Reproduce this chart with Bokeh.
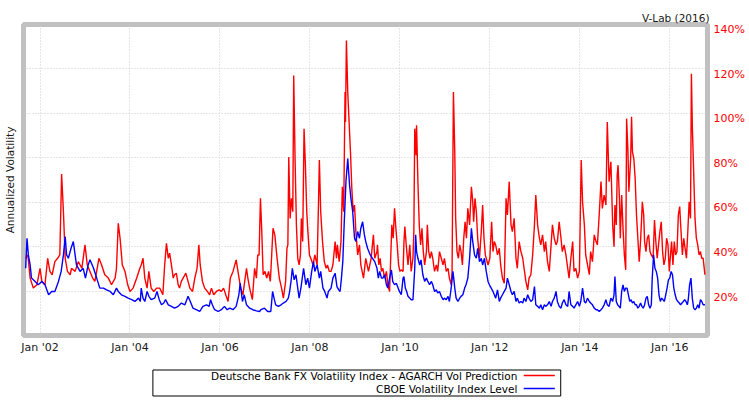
import datetime as dt
import numpy as np
from bokeh.plotting import figure
from bokeh.layouts import column
from bokeh.models import (Range1d, LinearAxis, FixedTicker, PrintfTickFormatter,
                          DatetimeTickFormatter)
from bokeh.embed import file_html
from bokeh.resources import INLINE
from bokeh.core.properties import value

# ---------------- data (decimal years, annualized volatility in %) ----------------
SERIES_NAMES = ["Deutsche Bank FX Volatility Index - AGARCH Vol Prediction",
                "CBOE Volatility Index Level"]
SERIES_COLORS = ["#ff0000", "#0000ff"]

RED_T_1 = [2001.68, 2001.73, 2001.78, 2001.85, 2001.93, 2002.00, 2002.04, 2002.11, 2002.17, 2002.22,
           2002.27, 2002.33, 2002.39, 2002.44, 2002.48, 2002.52, 2002.56, 2002.61, 2002.67, 2002.70,
           2002.78, 2002.85, 2002.93, 2003.00, 2003.05, 2003.11, 2003.17, 2003.22, 2003.31, 2003.37,
           2003.44, 2003.52, 2003.59, 2003.67, 2003.70, 2003.74, 2003.78, 2003.83, 2003.89, 2003.95,
           2004.00, 2004.07, 2004.15, 2004.22]
RED_V_1 = [34.9, 36.4, 26.0, 21.5, 23.0, 30.4, 24.5, 23.0, 34.9, 29.0,
           27.5, 33.4, 34.9, 36.4, 72.7, 55.8, 34.9, 29.0, 27.5, 30.4,
           29.0, 33.4, 30.4, 40.9, 31.9, 29.0, 26.0, 24.5, 34.9, 31.9,
           27.5, 26.0, 23.0, 26.0, 30.4, 50.6, 43.9, 31.9, 29.0, 23.0,
           20.0, 21.5, 26.0, 30.4]

RED_T_2 = [2004.25, 2004.29, 2004.33, 2004.38, 2004.42, 2004.47, 2004.53, 2004.59, 2004.66, 2004.73,
           2004.77, 2004.81, 2004.85, 2004.88, 2004.92, 2004.96, 2004.99, 2005.03, 2005.07, 2005.10,
           2005.14, 2005.18, 2005.24, 2005.29, 2005.33, 2005.39, 2005.44, 2005.49, 2005.53, 2005.56,
           2005.61, 2005.66, 2005.72, 2005.77, 2005.81, 2005.86, 2005.92, 2005.98, 2006.03, 2006.08,
           2006.14, 2006.18, 2006.23, 2006.29, 2006.36, 2006.40, 2006.46, 2006.51, 2006.55, 2006.59,
           2006.62, 2006.66, 2006.72, 2006.77, 2006.81, 2006.84]
RED_V_2 = [31.9, 34.9, 26.0, 21.5, 29.0, 21.5, 20.0, 21.5, 21.5, 18.5,
           31.9, 41.6, 34.9, 37.2, 31.9, 26.0, 27.5, 28.2, 23.0, 21.5,
           24.5, 26.0, 28.2, 24.5, 21.5, 20.0, 26.0, 30.4, 40.9, 31.9,
           24.5, 21.5, 20.0, 18.5, 21.5, 18.5, 20.0, 20.7, 20.0, 21.5,
           17.8, 15.5, 26.0, 29.0, 34.2, 29.0, 21.5, 18.5, 24.5, 30.4,
           26.0, 21.5, 16.3, 30.4, 26.0, 36.4]

RED_T_3 = [2006.87, 2006.90, 2006.93, 2006.96, 2007.00, 2007.04, 2007.08, 2007.12, 2007.15, 2007.18,
           2007.22, 2007.27, 2007.32, 2007.37, 2007.41, 2007.46, 2007.49, 2007.51, 2007.53, 2007.56,
           2007.59, 2007.62, 2007.64, 2007.67, 2007.70, 2007.73, 2007.76, 2007.79, 2007.81, 2007.84,
           2007.87, 2007.90, 2007.93, 2007.96, 2007.99, 2008.02, 2008.07, 2008.11, 2008.16, 2008.19,
           2008.21, 2008.24, 2008.28, 2008.32, 2008.36, 2008.39, 2008.43, 2008.47, 2008.51, 2008.56,
           2008.59, 2008.61, 2008.65, 2008.69, 2008.72, 2008.75, 2008.78, 2008.79, 2008.81, 2008.84,
           2008.87, 2008.90, 2008.93, 2008.96, 2008.99, 2009.02, 2009.06, 2009.10, 2009.13, 2009.19,
           2009.24, 2009.30, 2009.36, 2009.41, 2009.44, 2009.49]
RED_V_3 = [36.4, 61.8, 46.9, 27.5, 29.0, 26.0, 29.0, 24.5, 36.4, 48.4,
           45.4, 34.9, 26.0, 21.5, 17.0, 24.5, 39.4, 40.9, 80.4, 52.8,
           61.8, 55.8, 117.0, 79.7, 49.9, 34.9, 31.9, 36.4, 52.8, 42.4,
           93.1, 76.7, 55.8, 45.4, 36.4, 34.9, 31.9, 36.4, 31.9, 58.8,
           79.0, 55.8, 42.4, 33.4, 30.4, 31.9, 29.0, 29.0, 31.9, 42.4,
           34.9, 40.9, 33.4, 42.4, 67.0, 55.8, 109.6, 96.1, 132.7, 109.6,
           96.1, 82.7, 66.3, 55.8, 58.8, 46.9, 36.4, 40.9, 31.9, 26.0,
           34.9, 29.0, 34.9, 45.4, 34.9, 37.9]

RED_T_4 = [2009.50, 2009.53, 2009.56, 2009.59, 2009.62, 2009.66, 2009.70, 2009.73, 2009.77, 2009.79,
           2009.82, 2009.85, 2009.88, 2009.91, 2009.94, 2009.97, 2010.00, 2010.03, 2010.07, 2010.09,
           2010.11, 2010.14, 2010.18, 2010.22, 2010.25, 2010.29, 2010.31, 2010.33, 2010.36, 2010.37,
           2010.40, 2010.43, 2010.46, 2010.49, 2010.52, 2010.55, 2010.59, 2010.61, 2010.64, 2010.67,
           2010.70, 2010.73, 2010.77, 2010.81, 2010.84, 2010.88, 2010.92, 2010.96, 2010.99, 2011.03,
           2011.07, 2011.10, 2011.14, 2011.16, 2011.19, 2011.22, 2011.24, 2011.27, 2011.30, 2011.33,
           2011.36, 2011.39, 2011.42, 2011.45, 2011.48, 2011.51, 2011.55, 2011.59, 2011.62, 2011.64,
           2011.67, 2011.70, 2011.73, 2011.77, 2011.81, 2011.84, 2011.87, 2011.90, 2011.96, 2012.00,
           2012.04, 2012.07]
RED_V_4 = [40.9, 31.9, 34.9, 29.0, 30.4, 26.0, 29.0, 23.0, 20.0, 31.9,
           49.9, 43.9, 57.3, 48.4, 40.9, 31.9, 29.0, 29.7, 29.0, 42.4,
           49.1, 40.9, 31.9, 40.9, 29.0, 34.9, 46.9, 93.1, 81.2, 94.6,
           69.3, 49.9, 40.9, 48.4, 37.9, 31.9, 37.9, 49.9, 37.9, 34.9,
           37.9, 34.9, 29.0, 31.9, 29.0, 37.9, 34.9, 31.9, 34.9, 29.0,
           30.4, 26.0, 23.0, 29.0, 109.6, 82.7, 52.8, 37.9, 34.9, 40.9,
           37.9, 31.9, 43.9, 51.3, 43.9, 57.3, 49.9, 67.0, 60.3, 51.3,
           61.8, 55.8, 43.9, 34.9, 46.9, 58.8, 43.9, 36.4, 31.9, 34.9,
           51.3, 37.9]

RED_T_5 = [2012.10, 2012.13, 2012.17, 2012.21, 2012.24, 2012.28, 2012.32, 2012.36, 2012.39, 2012.43,
           2012.47, 2012.50, 2012.54, 2012.58, 2012.61, 2012.65, 2012.69, 2012.73, 2012.76, 2012.80,
           2012.84, 2012.87, 2012.91, 2012.95, 2012.99, 2013.02, 2013.06, 2013.10, 2013.13, 2013.17,
           2013.21, 2013.24, 2013.28, 2013.32, 2013.36, 2013.39, 2013.43, 2013.47, 2013.50, 2013.54,
           2013.58, 2013.61, 2013.65, 2013.69, 2013.73, 2013.76, 2013.80, 2013.84, 2013.87, 2013.91,
           2013.95, 2013.99, 2014.03, 2014.06, 2014.10, 2014.13, 2014.17, 2014.21, 2014.24, 2014.28,
           2014.32, 2014.36, 2014.39, 2014.43, 2014.47, 2014.50, 2014.54, 2014.58, 2014.61, 2014.65,
           2014.69, 2014.73]
RED_V_5 = [42.4, 40.9, 36.4, 39.4, 31.9, 26.0, 23.7, 61.8, 54.3, 69.3,
           49.9, 46.9, 52.8, 34.9, 30.4, 42.4, 37.9, 34.9, 30.4, 24.5,
           20.7, 26.0, 27.5, 36.4, 49.9, 63.3, 49.9, 43.9, 40.9, 45.4,
           37.9, 42.4, 33.4, 29.0, 40.9, 49.9, 43.9, 40.9, 42.4, 51.3,
           43.9, 37.9, 40.9, 36.4, 30.4, 26.0, 34.9, 42.4, 29.0, 30.4,
           26.0, 29.0, 79.0, 60.3, 49.9, 36.4, 31.9, 27.5, 37.9, 33.4,
           45.4, 42.4, 40.9, 54.3, 69.3, 57.3, 63.3, 58.8, 96.1, 69.3,
           78.2, 49.9]

RED_T_6 = [2014.76, 2014.78, 2014.81, 2014.83, 2014.85, 2014.88, 2014.90, 2014.93, 2014.96, 2014.99,
           2015.02, 2015.04, 2015.07, 2015.09, 2015.13, 2015.15, 2015.17, 2015.20, 2015.23, 2015.26,
           2015.29, 2015.32, 2015.35, 2015.37, 2015.39, 2015.42, 2015.44, 2015.47, 2015.50, 2015.53,
           2015.56, 2015.59, 2015.63, 2015.66, 2015.69, 2015.72, 2015.75, 2015.78, 2015.81, 2015.84,
           2015.87, 2015.90, 2015.93, 2015.96, 2015.99, 2016.01, 2016.04, 2016.07, 2016.10, 2016.13,
           2016.16, 2016.19, 2016.22, 2016.25, 2016.28, 2016.31, 2016.34, 2016.37, 2016.40, 2016.43,
           2016.46, 2016.48, 2016.50, 2016.53, 2016.56, 2016.59, 2016.62, 2016.65, 2016.68, 2016.71,
           2016.74, 2016.78]
RED_V_6 = [40.1, 58.8, 49.9, 72.2, 76.7, 61.8, 43.9, 63.3, 48.4, 36.4,
           29.7, 97.6, 82.7, 64.8, 79.7, 98.4, 82.7, 79.7, 70.7, 54.3,
           43.9, 33.4, 42.4, 51.3, 60.3, 54.3, 42.4, 37.9, 43.9, 45.4,
           37.9, 36.4, 34.9, 52.1, 42.4, 34.9, 40.9, 46.9, 51.3, 37.9,
           31.9, 34.9, 43.9, 40.9, 29.0, 34.9, 42.4, 31.9, 42.4, 36.4,
           37.9, 54.3, 58.1, 46.9, 36.4, 43.9, 39.4, 34.9, 46.9, 60.3,
           52.8, 117.8, 94.6, 73.7, 52.8, 43.9, 40.9, 36.4, 37.9, 34.9,
           34.9, 27.5]

BLUE_T_1 = [2001.68, 2001.71, 2001.74, 2001.78, 2001.81, 2001.89, 2001.96, 2002.04, 2002.11, 2002.19,
            2002.26, 2002.33, 2002.41, 2002.47, 2002.52, 2002.56, 2002.59, 2002.63, 2002.69, 2002.74,
            2002.78, 2002.81, 2002.89, 2002.96, 2003.01, 2003.07, 2003.11, 2003.19, 2003.26, 2003.33,
            2003.41, 2003.48, 2003.56, 2003.63, 2003.70, 2003.74, 2003.81, 2003.89, 2003.96, 2004.04,
            2004.11, 2004.19, 2004.23]
BLUE_V_1 = [30.4, 43.9, 36.4, 31.9, 26.0, 24.5, 23.0, 24.5, 23.0, 18.5,
            20.0, 20.0, 24.5, 29.0, 36.4, 44.6, 36.4, 34.9, 39.4, 42.4,
            36.4, 31.9, 29.0, 30.4, 26.0, 31.9, 34.2, 30.4, 26.0, 21.5,
            21.5, 20.7, 20.0, 18.5, 21.5, 20.0, 18.5, 17.8, 17.0, 16.3,
            15.5, 17.0, 15.5]

BLUE_T_2 = [2004.25, 2004.29, 2004.33, 2004.38, 2004.42, 2004.47, 2004.55, 2004.60, 2004.65, 2004.70,
            2004.75, 2004.79, 2004.85, 2004.92, 2004.99, 2005.07, 2005.14, 2005.22, 2005.29, 2005.34,
            2005.40, 2005.47, 2005.55, 2005.62, 2005.70, 2005.76, 2005.79, 2005.83, 2005.88, 2005.96,
            2006.03, 2006.10, 2006.16, 2006.22, 2006.29, 2006.36, 2006.42, 2006.45, 2006.50, 2006.54,
            2006.59, 2006.66, 2006.73, 2006.81, 2006.88]
BLUE_V_2 = [21.5, 17.0, 15.5, 20.0, 17.8, 16.3, 17.0, 20.0, 16.3, 14.0,
            14.8, 16.3, 14.0, 13.3, 12.5, 13.3, 14.8, 14.0, 17.8, 15.5,
            12.5, 11.8, 11.0, 13.3, 14.0, 13.3, 16.3, 14.0, 11.8, 11.0,
            11.8, 13.3, 11.8, 12.5, 11.8, 13.3, 18.5, 23.7, 15.5, 18.5,
            14.0, 12.5, 11.8, 11.3, 11.0]

BLUE_T_3 = [2006.91, 2006.99, 2007.06, 2007.13, 2007.17, 2007.21, 2007.24, 2007.30, 2007.36, 2007.41,
            2007.47, 2007.52, 2007.55, 2007.58, 2007.61, 2007.65, 2007.69, 2007.73, 2007.76, 2007.80,
            2007.86, 2007.91, 2007.95, 2007.99, 2008.04, 2008.08, 2008.11, 2008.16, 2008.21, 2008.24,
            2008.29, 2008.33, 2008.38, 2008.41, 2008.47, 2008.51, 2008.56, 2008.60, 2008.64, 2008.67,
            2008.70, 2008.73, 2008.76, 2008.80, 2008.84, 2008.88, 2008.91, 2008.95, 2008.99, 2009.02,
            2009.06, 2009.10, 2009.13, 2009.17, 2009.21, 2009.24, 2009.28, 2009.34, 2009.39, 2009.44,
            2009.49]
BLUE_V_3 = [11.8, 12.5, 11.0, 11.0, 20.0, 16.3, 14.0, 13.3, 14.0, 14.8,
            15.5, 17.0, 20.0, 24.5, 30.4, 25.2, 27.5, 21.5, 17.0, 21.5,
            30.4, 23.0, 26.0, 21.5, 29.0, 33.4, 29.0, 31.9, 26.0, 29.0,
            21.5, 20.0, 17.0, 20.0, 21.5, 26.0, 28.2, 22.2, 20.7, 20.0,
            26.0, 33.4, 49.9, 69.3, 79.7, 67.8, 61.8, 55.8, 43.9, 42.4,
            46.9, 43.9, 48.4, 51.3, 45.4, 42.4, 39.4, 36.4, 34.9, 33.4,
            30.4]

BLUE_T_4 = [2009.52, 2009.55, 2009.59, 2009.62, 2009.66, 2009.70, 2009.73, 2009.77, 2009.81, 2009.84,
            2009.88, 2009.92, 2009.96, 2009.99, 2010.03, 2010.07, 2010.09, 2010.12, 2010.15, 2010.18,
            2010.22, 2010.25, 2010.29, 2010.33, 2010.35, 2010.37, 2010.40, 2010.44, 2010.47, 2010.51,
            2010.55, 2010.59, 2010.62, 2010.66, 2010.70, 2010.73, 2010.77, 2010.81, 2010.84, 2010.88,
            2010.92, 2010.96, 2010.99, 2011.03, 2011.07, 2011.10, 2011.14, 2011.18, 2011.22, 2011.25,
            2011.29, 2011.33, 2011.36, 2011.40, 2011.44, 2011.47, 2011.51, 2011.55, 2011.59, 2011.62,
            2011.66, 2011.70, 2011.73, 2011.77, 2011.81, 2011.84, 2011.88, 2011.92, 2011.96, 2011.99,
            2012.03, 2012.07]
BLUE_V_4 = [26.0, 29.0, 26.0, 26.0, 27.5, 23.0, 21.5, 26.0, 29.7, 24.5,
            23.0, 23.7, 21.5, 20.0, 18.5, 26.0, 26.7, 21.5, 20.0, 17.8,
            17.0, 16.3, 16.3, 30.4, 45.4, 37.9, 34.9, 31.9, 34.2, 27.5,
            24.5, 26.0, 24.5, 23.0, 24.5, 23.0, 20.0, 20.7, 19.3, 20.0,
            17.8, 16.3, 17.0, 16.3, 17.8, 15.5, 21.5, 29.0, 21.5, 17.0,
            15.5, 17.0, 17.8, 18.5, 21.5, 23.0, 26.0, 34.9, 48.4, 42.4,
            36.4, 34.9, 39.4, 33.4, 34.9, 31.9, 34.9, 29.0, 24.5, 23.0,
            21.5, 20.0]

BLUE_T_5 = [2012.10, 2012.13, 2012.17, 2012.21, 2012.24, 2012.28, 2012.32, 2012.36, 2012.39, 2012.43,
            2012.47, 2012.50, 2012.54, 2012.58, 2012.61, 2012.65, 2012.69, 2012.73, 2012.76, 2012.80,
            2012.84, 2012.87, 2012.91, 2012.95, 2012.99, 2013.02, 2013.06, 2013.10, 2013.13, 2013.17,
            2013.21, 2013.24, 2013.28, 2013.32, 2013.36, 2013.39, 2013.43, 2013.47, 2013.50, 2013.54,
            2013.58, 2013.61, 2013.65, 2013.69, 2013.73, 2013.76, 2013.80, 2013.84, 2013.87, 2013.91,
            2013.95, 2013.99, 2014.02, 2014.06, 2014.10, 2014.13, 2014.17, 2014.21, 2014.24, 2014.28,
            2014.32, 2014.36, 2014.39, 2014.43, 2014.47, 2014.50, 2014.54, 2014.58, 2014.61, 2014.65,
            2014.69, 2014.73]
BLUE_V_5 = [18.5, 17.0, 20.7, 15.5, 17.0, 18.5, 20.0, 21.5, 26.0, 23.0,
            20.0, 18.5, 20.0, 15.5, 17.0, 14.8, 15.5, 14.8, 17.0, 15.5,
            18.5, 17.0, 15.5, 16.3, 22.2, 14.0, 13.3, 12.5, 14.0, 11.8,
            14.0, 13.3, 14.0, 15.5, 13.3, 15.5, 17.0, 20.0, 15.5, 13.3,
            12.5, 14.8, 16.3, 14.0, 13.3, 20.0, 14.0, 13.3, 12.5, 14.0,
            15.5, 13.3, 15.5, 21.5, 15.5, 14.8, 17.0, 15.5, 14.8, 14.0,
            12.5, 11.8, 11.8, 11.0, 11.8, 12.5, 14.0, 16.3, 14.0, 13.3,
            17.0, 15.5]

BLUE_T_6 = [2014.76, 2014.78, 2014.81, 2014.84, 2014.87, 2014.90, 2014.93, 2014.96, 2014.99, 2015.02,
            2015.05, 2015.08, 2015.11, 2015.14, 2015.17, 2015.20, 2015.23, 2015.26, 2015.29, 2015.32,
            2015.35, 2015.38, 2015.41, 2015.44, 2015.47, 2015.50, 2015.53, 2015.56, 2015.59, 2015.61,
            2015.64, 2015.67, 2015.70, 2015.73, 2015.76, 2015.79, 2015.82, 2015.85, 2015.88, 2015.91,
            2015.94, 2015.97, 2016.00, 2016.03, 2016.06, 2016.09, 2016.12, 2016.15, 2016.18, 2016.21,
            2016.24, 2016.27, 2016.30, 2016.33, 2016.36, 2016.39, 2016.41, 2016.44, 2016.47, 2016.50,
            2016.53, 2016.56, 2016.59, 2016.62, 2016.65, 2016.68, 2016.71, 2016.74, 2016.78]
BLUE_V_6 = [18.5, 26.7, 15.5, 14.0, 13.3, 12.5, 20.0, 23.0, 20.0, 21.5,
            21.5, 18.5, 15.5, 16.3, 14.8, 15.5, 14.0, 14.0, 12.5, 13.3,
            14.8, 13.3, 12.5, 14.0, 17.0, 17.8, 14.0, 12.5, 14.0, 26.0,
            36.4, 30.4, 29.0, 26.0, 18.5, 15.5, 17.0, 16.3, 15.5, 18.5,
            21.5, 25.2, 26.0, 29.0, 27.5, 21.5, 18.5, 16.3, 15.5, 14.8,
            14.0, 14.8, 15.5, 16.3, 15.5, 14.0, 16.3, 23.0, 26.0, 17.0,
            12.5, 11.8, 12.5, 14.0, 12.5, 16.3, 15.5, 14.0, 14.0]

TICK_YEARS = [2002, 2004, 2006, 2008, 2010, 2012, 2014, 2016]
Y_TICKS = [20, 40, 60, 80, 100, 120, 140]
X_START, X_END = 2001.632, 2016.837
Y_START, Y_END = 0.22, 139.87
CREDIT = "V-Lab (2016)"
Y_TITLE = "Annualized Volatility"

RED_T = RED_T_1 + RED_T_2 + RED_T_3 + RED_T_4 + RED_T_5 + RED_T_6
RED_V = RED_V_1 + RED_V_2 + RED_V_3 + RED_V_4 + RED_V_5 + RED_V_6
BLUE_T = BLUE_T_1 + BLUE_T_2 + BLUE_T_3 + BLUE_T_4 + BLUE_T_5 + BLUE_T_6
BLUE_V = BLUE_V_1 + BLUE_V_2 + BLUE_V_3 + BLUE_V_4 + BLUE_V_5 + BLUE_V_6
n_r = min(len(RED_T), len(RED_V))
n_b = min(len(BLUE_T), len(BLUE_V))


def dec_to_ms(t):
    y = int(np.floor(t))
    start = dt.datetime(y, 1, 1)
    end = dt.datetime(y + 1, 1, 1)
    d = start + (end - start) * (t - y)
    return (d - dt.datetime(1970, 1, 1)).total_seconds() * 1000.0


FONT = "DejaVu Sans"
TXT = "#1a1a1a"
W = 748


def no_ticks(ax):
    ax.axis_line_color = None
    ax.major_tick_line_color = None
    ax.minor_tick_line_color = None
    ax.major_tick_out = 0
    ax.major_tick_in = 0
    ax.minor_tick_out = 0
    ax.minor_tick_in = 0


p = figure(width=W, height=360, x_axis_type="datetime", output_backend="svg",
           toolbar_location=None,
           x_range=Range1d(dec_to_ms(X_START), dec_to_ms(X_END)),
           y_range=Range1d(Y_START, Y_END),
           min_border_left=22, min_border_right=W - 707, min_border_top=24, min_border_bottom=25)
p.outline_line_color = "#c0c0c0"
p.outline_line_width = 5
p.background_fill_color = "white"
p.border_fill_color = "white"

# credit (top right)
p.title.text = CREDIT
p.title.align = "right"
p.title.text_font = FONT
p.title.text_font_size = "10.5px"
p.title.text_font_style = "normal"
p.title.text_color = TXT
p.title.standoff = 2
p.title.offset = -2

# x axis
xa = p.xaxis[0]
xa.ticker = FixedTicker(ticks=[dec_to_ms(y) for y in TICK_YEARS])
fmt = "%b '%y"
xa.formatter = DatetimeTickFormatter(years=fmt, months=fmt, days=fmt, hours=fmt,
                                     minutes=fmt, seconds=fmt, milliseconds=fmt,
                                     microseconds=fmt, hourmin=fmt, minsec=fmt)
no_ticks(xa)
xa.major_label_standoff = 5
xa.major_label_text_font = FONT
xa.major_label_text_font_size = "11px"
xa.major_label_text_color = TXT

# left axis: only the title
ya = p.yaxis[0]
ya.ticker = FixedTicker(ticks=[])
no_ticks(ya)
ya.major_label_standoff = 0
ya.axis_label = Y_TITLE
ya.axis_label_standoff = 8
ya.axis_label_text_font = FONT
ya.axis_label_text_font_size = "10.5px"
ya.axis_label_text_font_style = "normal"
ya.axis_label_text_color = TXT

# grids
p.xgrid[0].ticker = xa.ticker
p.ygrid[0].ticker = FixedTicker(ticks=Y_TICKS)
for g in (p.xgrid[0], p.ygrid[0]):
    g.grid_line_color = "#cccccc"
    g.grid_line_dash = "1 2"
    g.grid_line_width = 1

# right axis with red percentage labels (label sits slightly below its grid line)
p.extra_y_ranges = {"lab": Range1d(Y_START + 2.5, Y_END + 2.5)}
ra = LinearAxis(y_range_name="lab", ticker=FixedTicker(ticks=Y_TICKS),
                formatter=PrintfTickFormatter(format="%d%%"))
no_ticks(ra)
ra.major_label_standoff = 6
ra.major_label_text_font = FONT
ra.major_label_text_font_size = "11px"
ra.major_label_text_color = "#ff0000"
p.add_layout(ra, "right")

# series
p.line([dec_to_ms(t) for t in RED_T[:n_r]], RED_V[:n_r], line_color=SERIES_COLORS[0], line_width=1.4)
p.line([dec_to_ms(t) for t in BLUE_T[:n_b]], BLUE_V[:n_b], line_color=SERIES_COLORS[1], line_width=1.4)

# ---------------- legend strip ----------------
lg = figure(width=W, height=38, output_backend="svg", toolbar_location=None,
            x_range=Range1d(0, W), y_range=Range1d(38, 0),
            x_axis_location=None, y_axis_location=None,
            min_border_left=0, min_border_right=0, min_border_top=0, min_border_bottom=0)
lg.outline_line_color = None
lg.xgrid.visible = False
lg.ygrid.visible = False
lg.background_fill_color = "white"
lg.border_fill_color = "white"
lg.quad(left=[141.5], right=[587.5], top=[9.5], bottom=[35.5], fill_color=None,
        line_color="black", line_width=1)
lg.text(x=[540, 540], y=[15.5, 28.5], text=SERIES_NAMES, text_align="right",
        text_baseline="middle", text_font=value(FONT), text_font_size="10.5px", text_color="black")
lg.segment(x0=[547, 547], x1=[581, 581], y0=[15, 28], y1=[15, 28],
           line_color=SERIES_COLORS, line_width=1.3)

layout = column(p, lg, spacing=0)
open("out.html", "w").write(file_html(layout, INLINE))
